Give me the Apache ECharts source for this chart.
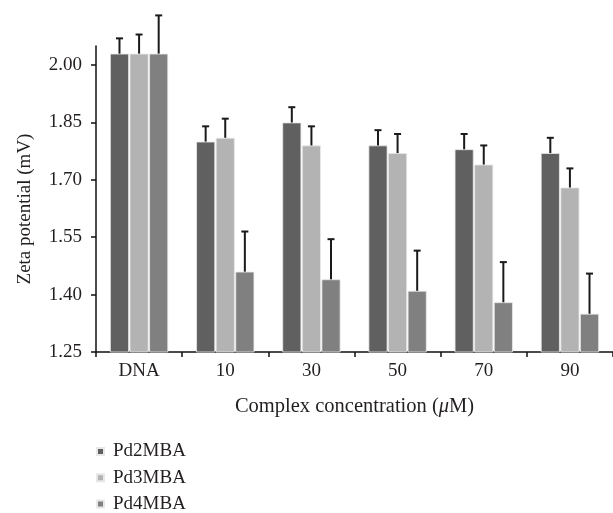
<!DOCTYPE html>
<html>
<head>
<meta charset="utf-8">
<script src="https://cdn.jsdelivr.net/npm/echarts@6/dist/echarts.min.js"></script>
<style>html,body{margin:0;padding:0;background:#fff}#c{width:613px;height:513px}</style>
</head>
<body>
<div id="c"></div>
<script>
var categories = ['DNA', '10', '30', '50', '70', '90'];
var seriesNames = ['Pd2MBA', 'Pd3MBA', 'Pd4MBA'];
var pd2 = [2.03, 1.80, 1.85, 1.79, 1.78, 1.77];
var pd3 = [2.03, 1.81, 1.79, 1.77, 1.74, 1.68];
var pd4 = [2.03, 1.46, 1.44, 1.41, 1.38, 1.35];
var pd2Err = [2.07, 1.84, 1.89, 1.83, 1.82, 1.81];
var pd3Err = [2.08, 1.86, 1.84, 1.82, 1.79, 1.73];
var pd4Err = [2.13, 1.565, 1.545, 1.515, 1.485, 1.455];
var yTicks = [1.25, 1.40, 1.55, 1.70, 1.85, 2.00];

var colors = ['#606060', '#b3b3b3', '#808080'];
var values = [pd2, pd3, pd4];
var errs = [pd2Err, pd3Err, pd4Err];
var BW = 19, GAP = 0.6;
var font = '"Liberation Serif", "Times New Roman", serif';
var txt = '#231f20';

var series = [];
for (var s = 0; s < 3; s++) {
  series.push({
    name: seriesNames[s], type: 'bar', data: values[s],
    barWidth: BW, barGap: (GAP / BW * 100) + '%',
    itemStyle: { color: colors[s], borderColor: '#e8e8e8', borderWidth: 0.8 },
    z: 2
  });
}
for (var s2 = 0; s2 < 3; s2++) {
  (function (si) {
    var d = [];
    for (var i = 0; i < categories.length; i++) d.push([i, values[si][i], errs[si][i]]);
    series.push({
      name: 'err' + si, type: 'custom', data: d, z: 3,
      renderItem: function (params, api) {
        var idx = api.value(0);
        var base = api.coord([idx, api.value(1)]);
        var top = api.coord([idx, api.value(2)]);
        var x = base[0] + (si - 1) * (BW + GAP);
        var cap = 3.5;
        return {
          type: 'group',
          children: [
            { type: 'line', shape: { x1: x, y1: base[1], x2: x, y2: top[1] }, style: { stroke: '#1a1a1a', lineWidth: 2 } },
            { type: 'line', shape: { x1: x - cap, y1: top[1], x2: x + cap, y2: top[1] }, style: { stroke: '#1a1a1a', lineWidth: 2 } }
          ]
        };
      }
    });
  })(s2);
}

var chart = echarts.init(document.getElementById('c'), null, { renderer: 'canvas' });
chart.setOption({
  animation: false,
  backgroundColor: '#fff',
  grid: { left: 96, right: -7, top: 46, bottom: 161, containLabel: false },
  legend: {
    data: seriesNames, orient: 'vertical', left: 96, top: 442, height: 120, padding: 0,
    itemWidth: 7, itemHeight: 7, itemGap: 7.3, icon: 'rect',
    textStyle: { fontFamily: font, fontSize: 19, color: txt, padding: [0, 0, 0, 4] }
  },
  xAxis: {
    type: 'category', data: categories,
    axisLine: { lineStyle: { color: '#111', width: 1.5 } },
    axisTick: { show: true, length: 5, lineStyle: { color: '#111', width: 1.5 } },
    axisLabel: { fontFamily: font, fontSize: 19, color: txt, margin: 10 },
    name: 'Complex concentration ({i|μ}M)', nameLocation: 'middle', nameGap: 44,
    nameTextStyle: { fontFamily: font, fontSize: 20.5, color: txt, rich: { i: { fontFamily: font, fontStyle: 'italic', fontSize: 20.5, color: txt } } }
  },
  yAxis: {
    type: 'value', min: 1.25, max: 2.05,
    axisLine: { show: true, lineStyle: { color: '#111', width: 1.5 } },
    axisTick: { show: true, length: 5, customValues: yTicks, lineStyle: { color: '#111', width: 1.5 } },
    axisLabel: { customValues: yTicks, fontFamily: font, fontSize: 19, color: txt, margin: 14, formatter: function (v) { return v.toFixed(2); } },
    splitLine: { show: false },
    name: 'Zeta potential (mV)', nameLocation: 'middle', nameGap: 61,
    nameTextStyle: { fontFamily: font, fontSize: 19, color: txt, padding: [0, 20, 0, 0] }
  },
  series: series
});
</script>
</body>
</html>
